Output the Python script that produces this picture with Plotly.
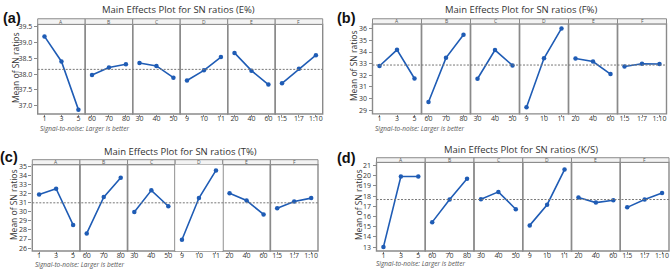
import plotly.graph_objects as go

W, H = 670, 276

# ---------------- data ----------------
factors = ["A", "B", "C", "D", "E", "F"]
levels_A = ["1", "3", "5"]
levels_B = ["60", "70", "80"]
levels_C = ["30", "40", "50"]
levels_D = ["9", "10", "11"]
levels_E = ["20", "40", "60"]
levels_F = ["1:5", "1:7", "1:10"]
level_labels = [levels_A, levels_B, levels_C, levels_D, levels_E, levels_F]

# SN ratio means per factor level (A..F)
sn_E = [[39.19, 38.40, 36.88], [37.97, 38.21, 38.31], [38.35, 38.26, 37.89],
        [37.80, 38.12, 38.54], [38.67, 38.11, 37.67], [37.71, 38.17, 38.60]]
sn_F = [[32.80, 34.19, 31.72], [29.70, 33.50, 35.49], [31.70, 34.17, 32.85],
        [29.25, 33.46, 36.03], [33.45, 33.18, 32.10], [32.75, 32.99, 32.97]]
sn_T = [[31.92, 32.55, 28.56], [27.62, 31.63, 33.76], [29.98, 32.38, 30.62],
        [26.92, 31.53, 34.58], [32.05, 31.25, 29.72], [30.40, 31.14, 31.52]]
sn_KS = [[13.02, 19.93, 19.93], [15.45, 17.68, 19.71], [17.70, 18.42, 16.72],
         [15.13, 17.16, 20.61], [17.87, 17.37, 17.60], [16.90, 17.68, 18.32]]

mean_E, mean_F, mean_T, mean_KS = 38.15, 32.88, 31.00, 17.67

titles = ["Main Effects Plot for SN ratios (E%)", "Main Effects Plot for SN ratios (F%)",
          "Main Effects Plot for SN ratios (T%)", "Main Effects Plot for SN ratios (K/S)"]
panel_tags = ["(a)", "(b)", "(c)", "(d)"]
footnote = "Signal-to-noise: Larger is better"
ytitle = "Mean of SN ratios"

# ---------------- layout geometry (pixels) ----------------
geo = [
    dict(data=sn_E, mean=mean_E, x0=37.7, x1=322.7, st=16.0, sb=21.7, pb=112.7,
         yr=[36.74, 39.57], dtick=0.5, fmt=".1f", tag=(11.5, 15.0), title=(178, 6.5),
         yt=(15, 66), foot=(38, 127)),
    dict(data=sn_F, mean=mean_F, x0=372.5, x1=666.5, st=16.0, sb=21.2, pb=112.5,
         yr=[28.68, 36.42], dtick=1, fmt="d", tag=(346.5, 15.0), title=(521, 6.5),
         yt=(353, 64), foot=(373, 127)),
    dict(data=sn_T, mean=mean_T, x0=32.3, x1=318.0, st=159.0, sb=164.0, pb=251.7,
         yr=[25.67, 35.22], dtick=1, fmt="d", tag=(8.5, 156), title=(180, 150.5),
         yt=(13, 205), foot=(33, 265)),
    dict(data=sn_KS, mean=mean_KS, x0=376.5, x1=669.0, st=157.0, sb=161.7, pb=251.7,
         yr=[12.61, 21.32], dtick=1, fmt="d", tag=(346, 157), title=(521, 148.5),
         yt=(358, 205), foot=(374, 264)),
]

FONT = "Open Sans"
BLUE = "#1f5cb5"
FRAME = "#8a8a8a"

fig = go.Figure()
layout = dict(
    width=W, height=H, margin=dict(l=0, r=0, t=0, b=0),
    paper_bgcolor="white", plot_bgcolor="white", showlegend=False,
    font=dict(family=FONT, color="#333333"),
)
shapes = []
annotations = []

def px(x):
    return x / W

def py(y):
    return 1 - y / H

for p, g in enumerate(geo):
    yname = "yaxis" if p == 0 else f"yaxis{p + 1}"
    yref = "y" if p == 0 else f"y{p + 1}"
    w = (g["x1"] - g["x0"]) / 6.0
    first_x = f"x{p * 6 + 1}" if p * 6 + 1 > 1 else "x"
    layout[yname] = dict(
        domain=[py(g["pb"]), py(g["sb"])], range=g["yr"], anchor=first_x,
        dtick=g["dtick"], tickformat=g["fmt"], ticks="outside", ticklen=3,
        tickcolor=FRAME, showgrid=False, zeroline=False, showline=False,
        tickfont=dict(size=7, color="#333333", family=FONT),
    )
    for k in range(6):
        n = p * 6 + k + 1
        xname = "xaxis" if n == 1 else f"xaxis{n}"
        xref = "x" if n == 1 else f"x{n}"
        xa = g["x0"] + k * w
        xb = xa + w
        layout[xname] = dict(
            domain=[px(xa), px(xb)], anchor=yref, type="category",
            categoryorder="array", categoryarray=level_labels[k],
            range=[-0.4, 2.4], ticks="outside", ticklen=2, tickcolor=FRAME,
            ticklabelstandoff=-4,
            showgrid=False, zeroline=False, showline=False,
            tickfont=dict(size=7, color="#333333", family=FONT),
        )
        fig.add_trace(go.Scatter(
            x=level_labels[k], y=g["data"][k], xaxis=xref, yaxis=yref,
            mode="lines+markers", line=dict(color=BLUE, width=1.6),
            marker=dict(color=BLUE, size=4.5), cliponaxis=False,
        ))
        # plot frame
        shapes.append(dict(type="rect", xref="paper", yref="paper",
                           x0=px(xa), x1=px(xb), y0=py(g["pb"]), y1=py(g["sb"]),
                           line=dict(color=FRAME, width=1.4), layer="below"))
        # strip
        shapes.append(dict(type="rect", xref="paper", yref="paper",
                           x0=px(xa), x1=px(xb), y0=py(g["sb"]), y1=py(g["st"]),
                           fillcolor="#f3f3f3", line=dict(color=FRAME, width=1.0),
                           layer="below"))
        annotations.append(dict(x=px((xa + xb) / 2), y=py((g["st"] + g["sb"]) / 2),
                                xref="paper", yref="paper", text=factors[k],
                                showarrow=False, font=dict(size=5, color="#555555"),
                                xanchor="center", yanchor="middle"))
    # mean reference line
    shapes.append(dict(type="line", xref="paper", yref=yref,
                       x0=px(g["x0"]), x1=px(g["x1"]), y0=g["mean"], y1=g["mean"],
                       line=dict(color="#777777", width=1, dash="2px,1.5px")))
    # title
    annotations.append(dict(x=px(g["title"][0]), y=py(g["title"][1]), xref="paper",
                            yref="paper", text=titles[p], showarrow=False,
                            font=dict(size=9.5, color="#333333", family=FONT),
                            xanchor="center", yanchor="middle"))
    # panel tag
    annotations.append(dict(x=px(g["tag"][0]), y=py(g["tag"][1]), xref="paper",
                            yref="paper", text="<b>" + panel_tags[p] + "</b>",
                            showarrow=False,
                            font=dict(size=14.5, color="#111111", family="Liberation Sans"),
                            xanchor="center", yanchor="middle"))
    # y title
    annotations.append(dict(x=px(g["yt"][0]), y=py(g["yt"][1]), xref="paper",
                            yref="paper", text=ytitle, textangle=-90, showarrow=False,
                            font=dict(size=8.5, color="#333333", family=FONT),
                            xanchor="center", yanchor="middle"))
    # footnote
    annotations.append(dict(x=px(g["foot"][0]), y=py(g["foot"][1]), xref="paper",
                            yref="paper", text="<i>" + footnote + "</i>",
                            showarrow=False,
                            font=dict(size=6.5, color="#555555", family=FONT),
                            xanchor="left", yanchor="middle"))

layout["shapes"] = shapes
layout["annotations"] = annotations
fig.update_layout(**layout)
fig.write_html("out.html", config={"displayModeBar": False},
               post_script="document.body.style.margin='0';document.body.style.padding='0';")
